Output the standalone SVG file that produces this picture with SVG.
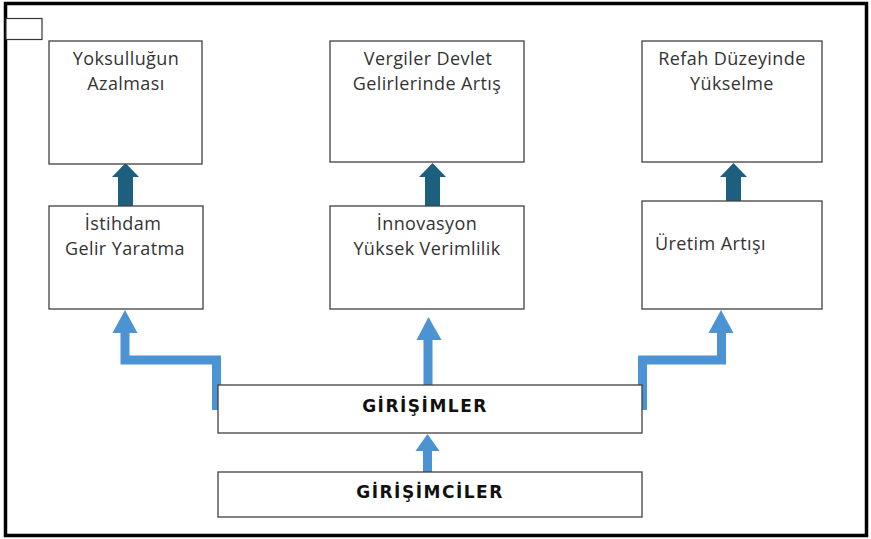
<svg xmlns="http://www.w3.org/2000/svg" width="871" height="539" viewBox="0 0 871 539">
  <style>
    .box { fill: #ffffff; stroke: #404040; stroke-width: 1.3; }
    .lbl { font-family: "Open Sans", "Liberation Sans", sans-serif; font-size: 18px; letter-spacing: 0.4px; fill: #333333; }
    .mid { text-anchor: middle; }
    .bold { font-family: "DejaVu Sans", "Liberation Sans", sans-serif; font-weight: bold; fill: #111111; font-size: 17px; letter-spacing: 1.5px; }
    .dark { fill: #1c5f7f; }
    .blue { fill: none; stroke: #4c93d3; stroke-width: 9; stroke-linejoin: miter; }
    .bluehead { fill: #4c93d3; }
  </style>

  <rect x="0" y="0" width="871" height="539" fill="#ffffff"/>
  <!-- outer frame -->
  <rect x="5.5" y="3.5" width="861" height="532" fill="none" stroke="#000000" stroke-width="3.5"/>
  <!-- small tab top-left -->
  <rect x="6" y="18.5" width="36" height="21" fill="#ffffff" stroke="#333333" stroke-width="1.2"/>

  <!-- connectors -->
  <g id="connectors">
    <!-- dark arrows: middle row to top row -->
    <path class="dark" d="M118,206 V177 H112 L125.5,163 L139,177 H133 V206 Z"/>
    <path class="dark" d="M425,206 V177 H419 L432.5,163 L446,177 H440 V206 Z"/>
    <path class="dark" d="M726,201 V177 H720 L733.5,163 L747,177 H741 V201 Z"/>

    <!-- blue arrows: GİRİŞİMLER to middle row -->
    <path class="blue" d="M216.5,410 V360 H125 V330"/>
    <path class="bluehead" d="M112.5,333 L125,310 L137.5,333 Z"/>

    <path class="blue" d="M428,385 V336"/>
    <path class="bluehead" d="M416.5,340 L428.5,317 L441.5,340 Z"/>

    <path class="blue" d="M642.5,410 V360 H721.5 V330"/>
    <path class="bluehead" d="M708.5,333 L721,310 L733.5,333 Z"/>

    <!-- blue arrow: GİRİŞİMCİLER to GİRİŞİMLER -->
    <path class="blue" d="M427.5,475 V448"/>
    <path class="bluehead" d="M415.5,451 L427.5,434 L439.5,451 Z"/>
  </g>

  <g id="yoksulluk">
    <rect class="box" x="49" y="41" width="153" height="123"/>
    <text class="lbl mid" x="126" y="65">Yoksulluğun</text>
    <text class="lbl mid" x="126" y="90">Azalması</text>
  </g>

  <g id="vergiler">
    <rect class="box" x="330" y="41" width="194" height="121"/>
    <text class="lbl mid" x="428" y="65">Vergiler  Devlet</text>
    <text class="lbl mid" x="427" y="90">Gelirlerinde Artış</text>
  </g>

  <g id="refah">
    <rect class="box" x="642" y="41" width="180" height="121"/>
    <text class="lbl mid" x="732" y="65">Refah Düzeyinde</text>
    <text class="lbl mid" x="732" y="90">Yükselme</text>
  </g>

  <g id="istihdam">
    <rect class="box" x="49" y="206" width="154" height="103"/>
    <text class="lbl mid" x="123" y="230">İstihdam</text>
    <text class="lbl mid" x="125" y="255">Gelir Yaratma</text>
  </g>

  <g id="innovasyon">
    <rect class="box" x="330" y="206" width="194" height="103"/>
    <text class="lbl mid" x="427" y="230">İnnovasyon</text>
    <text class="lbl mid" x="427" y="255">Yüksek Verimlilik</text>
  </g>

  <g id="uretim">
    <rect class="box" x="642" y="201" width="180" height="108"/>
    <text class="lbl" x="655" y="250">Üretim Artışı</text>
  </g>

  <g id="girisimler">
    <rect class="box" x="218" y="385" width="424" height="48"/>
    <text class="lbl bold mid" x="425" y="412">GİRİŞİMLER</text>
  </g>

  <g id="girisimciler">
    <rect class="box" x="218" y="472" width="424" height="45"/>
    <text class="lbl bold mid" x="430" y="498">GİRİŞİMCİLER</text>
  </g>
</svg>
